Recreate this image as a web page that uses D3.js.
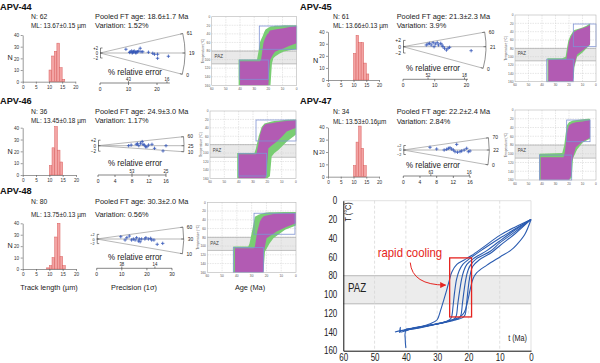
<!DOCTYPE html>
<html><head><meta charset="utf-8">
<script src="https://cdn.jsdelivr.net/npm/d3@7"></script>
<style>body{margin:0;background:#fff}svg{display:block}</style>
</head><body>
<svg id="c" width="600" height="363"></svg>
<script>
// ================= DATA =================
const sampleIds = ["APV-44","APV-45","APV-46","APV-47","APV-48"];
const trackN = [62, 61, 36, 34, 80];
const meanLength = ["13.67±0.15 µm","13.66±0.13 µm","13.45±0.18 µm","13.53±0.16µm","13.75±0.13 µm"];
const pooledAge = ["18.6±1.7 Ma","21.3±2.3 Ma","24.9±3.0 Ma","22.2±2.4 Ma","30.3±2.0 Ma"];
const variation = ["1.52%","3.9%","1.17%","2.84%","0.56%"];

// track-length histograms: [bin start (µm), count]
const hist44 = [[10,10],[11,22],[12,26],[13,33],[14,12],[15,2]];
const hist45 = [[10,22],[11,37],[12,31],[13,31],[14,14],[15,5]];
const hist46 = [[10,8],[11,23],[12,41],[13,21],[14,11]];
const hist47 = [[10,9],[11,28],[12,41],[13,23],[14,9]];
const hist48 = [[9,1],[10,3],[11,10],[12,28],[13,40],[14,11],[15,3]];
const lengthTicks = [0,5,10,15,20];
const countTicks = [0,10,20,30,40];

// radial plots: grains [precision, standardised estimate]
const radial44 = [[9.1,1.5],[10.4,0.2],[10.6,0.5],[11.1,0.8],[11.3,0.0],[11.5,0.3],[11.8,0.5],[12.0,0.8],[12.4,0.3],[12.6,0.0],[12.9,0.5],[13.2,0.5],[13.6,0.8],[14.1,1.9],[14.4,0.5],[15.0,0.5],[17.0,0.3],[18.5,-0.1],[19.1,-0.5],[20.2,-0.5],[20.2,-2.1],[24.0,-1.3]];
const radial45 = [[7.35,0.54],[7.9,0.86],[8.4,1.07],[8.9,0.54],[9.5,1.27],[9.8,0],[10.2,0.86],[10.8,1.27],[11.2,0.54],[11.9,1.07],[12.3,0.54],[12.6,0],[13.1,-0.5],[13.7,-1.07],[14.2,-0.5],[14.7,-0.2],[21.5,-1.27]];
const radial46 = [[7.2,0],[7.8,0.25],[9.0,0.5],[9.3,0.7],[9.6,0],[10.0,0.9],[10.4,1.5],[10.6,0.5],[10.9,0.25],[11.2,-0.4],[11.5,-0.4],[11.9,0.25],[12.7,0.5],[13.3,-0.95],[15.3,-1.9],[16.0,0]];
const radial47 = [[6.4,1.2],[8.0,0.44],[9.8,0],[10.4,0.3],[10.8,0.75],[11.2,1.0],[11.6,0.44],[12.0,0],[12.4,-0.75],[12.8,2.5],[13.0,-1.0],[13.6,-0.75],[14.0,-0.44],[14.6,0],[15.2,0.75],[15.6,-0.75],[16.0,-0.44]];
const radial48 = [[9.6,1.0],[11.3,-0.43],[12.0,0.57],[13.0,1.3],[13.9,-0.43],[14.6,0],[15.3,-0.43],[15.9,0.57],[16.6,-0.87],[17.0,0],[17.3,-1.2],[17.9,0],[19.2,0],[19.6,0.57],[20.6,0],[21.5,0.3],[21.9,-0.43],[22.8,-0.43],[24.1,-2.3],[26.3,-1.9]];
const precTicks44 = [0,10,20], precTicks45 = [0,10,20], precTicks46 = [0,4,8,12,16], precTicks47 = [0,4,8,12,16], precTicks48 = [0,10,20,30];
const precMax = [24.5, 20.5, 16, 16, 30];
const relErr44 = [[10,"43"],[23.5,"16"]], relErr45 = [[7.9,"52"],[19.4,"18"]], relErr46 = [[8,"53"],[16,"25"]], relErr47 = [[6.6,"63"],[15.8,"16"]], relErr48 = [[10,"38"],[23.2,"14"]];
const rayAge44 = ["61","19","0"], rayAge45 = ["60","21","0"], rayAge46 = ["60","25","10"], rayAge47 = ["70","22","0"], rayAge48 = ["60","30","10"];
const rayZ44 = [8,0,-8.8], rayZ45 = [4.7,0,-7.1], rayZ46 = [3.3,0,-2.2], rayZ47 = [5.5,0,-6.7], rayZ48 = [5.2,0,-6.5];
const zTicks = [2,0,-2];

// thermal-history envelopes: [age Ma, T min °C, T max °C]
const green44 = [[41,100,160],[30,100,160],[28,100,160],[27,82,160],[26,60,160],[25,52,160],[24,45,160],[23,36,160],[22,30,160],[20,26,160],[18.5,23,160],[17.5,22,110],[16.5,22,97],[15,21,92],[12,21,86],[9,20,81],[5,20,78],[0,20,76]];
const magenta44 = [[40,104,160],[26,104,160],[25.2,101,160],[24.5,85,160],[23.5,62,160],[22.5,52,160],[21.5,45,160],[20.5,40,160],[20,39,160],[19.5,35,130],[18.8,32,101],[17,31,90],[15.3,30,82],[12,28,77],[9.4,27,74],[5,24,68],[0,22,62]];
const green45 = [[36,104,160],[25,104,160],[22.5,100,160],[21.5,80,160],[20.5,62,160],[19,50,160],[17.5,42,160],[16.5,38,150],[16,36,125],[14,34,100],[10,30,90],[7,26,80],[4.4,20,72]];
const magenta45 = [[35.3,108,160],[22,106,160],[21,85,160],[20,65,160],[18.5,52,160],[17,44,160],[16.8,42,140],[16,40,120],[14,36,95],[10,32,85],[7,28,78],[4.4,24,70]];
const green46 = [[41,100,160],[29,100,160],[28,90,160],[27.4,80,160],[26,60,160],[24,38,160],[22,30,160],[20,28,160],[18.2,26,155],[17,25,108],[15,24,100],[12.3,23,93],[6.5,21,73],[0,20,56]];
const magenta46 = [[40,103,160],[28,103,160],[27.5,100,160],[26,75,160],[25,55,160],[23.5,40,160],[22,33,160],[21,31,158],[20.5,31,144],[19.3,30,89],[17,29,82],[13.5,27,73],[10,25,62],[6.5,24,49],[0,22,40]];
const green47 = [[42,100,160],[25,98,160],[23.5,80,160],[22.5,55,160],[21.5,35,160],[20,28,160],[18,25,155],[17,24,110],[14,23,90],[10,21,75],[6,20,68],[4.4,20,66]];
const magenta47 = [[41,108,160],[24,108,160],[23,95,160],[22,65,160],[21,45,160],[20,35,160],[18.5,32,150],[18,31,120],[15,28,85],[10,26,72],[6,24,66],[4.4,23,63]];
const green48 = [[42.4,101,160],[32.3,101,160],[31.5,95,160],[30.7,82,160],[28.9,52,160],[27.8,33,160],[25,28,160],[22,25,158],[21,24,113],[18,23,95],[15.3,23,82],[7.4,22,63],[0,22,53]];
const magenta48 = [[41.3,105,160],[28.5,105,160],[27.8,101,160],[26.2,67,160],[24.4,44,160],[23,36,160],[22.1,33,160],[21.8,32,115],[19.9,30,82],[15.3,27,72],[13.1,26,67],[7,25,57],[0,25,48]];
// constraint boxes: [old age, young age, T top, T bottom]
const boxes44 = [[26.4,0,21.7,76],[40.5,20,101,146]];
const boxes45 = [[16.8,0,21.6,76],[36.5,16.8,106,160]];
const boxes46 = [[27.9,0,21.4,71.3],[40.2,20.5,100.6,154.5]];
const boxes47 = [[21.7,4.4,22.9,72.4],[41.9,18,103,160]];
const boxes48 = [[28.4,0.7,25,73],[42.4,22.1,103.6,160]];
const ageTicks = [60,50,40,30,20,10,0];
const tempTicks = [0,20,40,60,80,100,120,140,160];
const pazRange = [80,110];

// summary t-T paths [age Ma, T °C]
const path1 = [[43.5,140],[40,137.5],[36,135],[32,131],[30,127],[29,118],[27.8,105],[27,96],[26.2,86],[25.3,76],[23.7,68],[21.5,63.5],[19,58.5],[15,49],[10,37],[5,28],[0,20]];
const path2 = [[40,157],[40.2,148],[40,139],[36,136],[32,133],[28,130],[26,127],[25.4,124],[24.9,112],[24.4,97],[23.8,84],[23,75],[21.8,68],[19.5,61.5],[15,51],[10,40],[5,30],[0,20]];
const path3 = [[41,139],[36,135.5],[31,132],[27,129],[24.5,126],[23.9,123],[23.4,110],[22.8,96],[22.2,84],[21.5,75],[20.5,68],[18.5,62],[14,53],[10,43],[5,31],[0,20]];
const path4 = [[40.5,138],[35,134.5],[30,131.5],[26,128],[23,125.5],[22.4,122],[21.9,109],[21.4,96],[20.9,85],[20.3,76],[19.4,69],[17.5,62],[13,54],[10,45],[5,33],[0,20]];
const path5 = [[40,137],[34,134],[29,131],[25,128],[22,125],[21.1,122],[20.6,110],[20.2,97],[19.8,86],[19.3,77],[18.6,70],[16.5,63],[12.5,55],[10,48],[5,35],[0,20]];
const path6 = [[42,141],[41.8,135],[41.6,140],[38,136],[33,133],[28,130],[25,127],[22.7,124],[21.3,119],[20.3,108],[19.4,94],[18.5,83],[17.4,77],[14.2,69],[9.9,60],[6.5,53],[4.6,47],[2,36],[0,20]];
const mainAgeTicks = [60,50,40,30,20,10,0];
const mainTempTicks = [0,20,40,60,80,100,120,140,160];
const rapidBox = [26,19,61,124];   // old age, young age, T top, T bottom
const arrowPts = [[38.6,66],[38,90],[27.3,90]];   // start, control, tip (age, T)

// ================= LAYOUT =================
const FONT = "'Liberation Sans', Arial, sans-serif";
const LAYOUT = {
 "APV-44":{tx:0,ty:9.5,nx:31,ny:18.5,mly:28,px:95,
   hx0:22.7,hx1:75.3,hy0:81.7,hy1:35,nlx:10,nly:59.5,
   rx0:100,ry0:53,rpx:2.85,rz:2.5,R:85,pay:83,relx:135,rely:74.5,
   gx0:211.7,gx1:296.7,gy0:16.7,gy1:85.3},
 "APV-45":{tx:300,ty:9.5,nx:333,ny:18.5,mly:28,px:396.7,
   hx0:328,hx1:379,hy0:80,hy1:31.7,nlx:315.5,nly:63,
   rx0:403,ry0:46.7,rpx:3.17,rz:3.15,R:83,pay:79.3,relx:433,rely:71.3,
   gx0:515,gx1:596,gy0:15,gy1:81.7},
 "APV-46":{tx:0,ty:104,nx:31,ny:113.5,mly:122.5,px:95,
   hx0:22.7,hx1:76,hy0:175,hy1:127.7,nlx:10,nly:154,
   rx0:98,ry0:145.7,rpx:4.25,rz:2.75,R:86,pay:175,relx:135,rely:166,
   gx0:210,gx1:296,gy0:111,gy1:178.3},
 "APV-47":{tx:300,ty:104,nx:333,ny:113.5,mly:123.5,px:396.7,
   hx0:328,hx1:379,hy0:176.7,hy1:127.3,nlx:315.5,nly:155,
   rx0:403.3,ry0:150,rpx:4.17,rz:2.25,R:86,pay:176,relx:433,rely:168,
   gx0:515,gx1:596,gy0:110,gy1:180},
 "APV-48":{tx:0,ty:194,nx:31,ny:203.5,mly:216.5,px:95,
   hx0:22.7,hx1:76,hy0:269,hy1:223.3,nlx:10,nly:248,
   rx0:96.7,ry0:239,rpx:2.51,rz:2.3,R:87,pay:268.3,relx:135,rely:259.5,
   gx0:207.3,gx1:296,gy0:202.3,gy1:272.3}
};

const svg = d3.select("#c");

function txt(g, x, y, s, o = {}) {
  const sx = o.sx ?? 0.88;
  return g.append("text")
    .attr("transform", `translate(${x},${y})` + (o.rot ? ` rotate(${o.rot})` : "") + ` scale(${sx},1)`)
    .attr("text-anchor", o.anchor || "start")
    .attr("font-size", o.size || 8)
    .attr("font-weight", o.weight || "normal")
    .attr("fill", o.fill || "#222")
    .attr("font-family", FONT)
    .text(s);
}
function styleAxis(a, size, sx, col = "#555", tcol = "#333") {
  a.select(".domain").attr("stroke", col).attr("stroke-width", 0.6);
  a.selectAll(".tick line").attr("stroke", col).attr("stroke-width", 0.6);
  a.selectAll(".tick text").attr("font-size", size).attr("font-family", FONT).attr("fill", tcol)
    .each(function () { const t = d3.select(this); const xv = +t.attr("x") || 0; t.attr("x", xv / sx).attr("transform", `scale(${sx},1)`); });
}

function drawHeader(id, i) {
  const L = LAYOUT[id], g = svg.append("g");
  txt(g, L.tx, L.ty, id, {size: 9.5, weight: "bold", sx: 0.97, fill: "#111"});
  txt(g, L.nx, L.ny, "N: " + trackN[i], {size: 8, sx: 0.85});
  txt(g, L.nx, L.mly, "ML: " + meanLength[i], {size: 8, sx: 0.8});
  txt(g, L.px, L.ny, "Pooled FT age: " + pooledAge[i], {size: 8, sx: 0.925});
  txt(g, L.px, L.mly, "Variation: " + variation[i], {size: 8, sx: 0.925});
}

function drawHist(id, data) {
  const L = LAYOUT[id], g = svg.append("g");
  const x = d3.scaleLinear().domain([0, 20]).range([L.hx0, L.hx1]);
  const y = d3.scaleLinear().domain([0, 40]).range([L.hy0, L.hy1]);
  g.selectAll("rect").data(data).join("rect")
    .attr("x", d => x(d[0])).attr("width", d => x(d[0] + 1) - x(d[0]))
    .attr("y", d => y(d[1])).attr("height", d => y(0) - y(d[1]))
    .attr("fill", "#f3a4a4").attr("stroke", "#d9605f").attr("stroke-width", 0.5);
  const ax = g.append("g").attr("transform", `translate(0,${L.hy0})`)
    .call(d3.axisBottom(x).tickValues(lengthTicks).tickSize(2).tickSizeOuter(0).tickPadding(1.5));
  const ay = g.append("g").attr("transform", `translate(${L.hx0},0)`)
    .call(d3.axisLeft(y).tickValues(countTicks).tickSize(2).tickSizeOuter(0).tickPadding(1.5));
  styleAxis(ax, 5.2, 0.9); styleAxis(ay, 5.2, 0.9);
  txt(g, L.nlx, L.nly, "N", {size: 8, sx: 0.9, anchor: "middle"});
}

function drawRadial(id, pts, pTicks, pMax, relErr, rayAge, rayZ) {
  const L = LAYOUT[id], g = svg.append("g");
  const px = d3.scaleLinear().domain([0, pMax]).range([L.rx0, L.rx0 + pMax * L.rpx]);
  const zy = d3.scaleLinear().domain([-2, 2]).range([L.ry0 + 2 * L.rz, L.ry0 - 2 * L.rz]);
  const ends = rayZ.map(z => { const a = Math.atan2(zy(z) - L.ry0, L.R); return {a, x: L.rx0 + L.R * Math.cos(a), y: L.ry0 + L.R * Math.sin(a)}; });
  g.selectAll("line.ray").data(ends).join("line").attr("class", "ray")
    .attr("x1", L.rx0).attr("y1", L.ry0).attr("x2", d => d.x).attr("y2", d => d.y)
    .attr("stroke", "#9a9a9a").attr("stroke-width", 0.7);
  const e0 = ends[0], e2 = ends[ends.length - 1];
  g.append("path").attr("d", `M${e0.x},${e0.y}A${L.R},${L.R} 0 0 1 ${e2.x},${e2.y}`)
    .attr("fill", "none").attr("stroke", "#444").attr("stroke-width", 0.6);
  ends.forEach((e, k) => {
    g.append("line").attr("x1", e.x).attr("y1", e.y)
      .attr("x2", e.x - 2.5 * Math.cos(e.a)).attr("y2", e.y - 2.5 * Math.sin(e.a))
      .attr("stroke", "#444").attr("stroke-width", 0.6);
    txt(g, e.x + 3 * Math.cos(e.a) + 1, e.y + 3 * Math.sin(e.a) + 2, rayAge[k], {size: 5.5, sx: 0.9});
  });
  g.append("line").attr("x1", L.rx0 + 0.5).attr("x2", L.rx0 + 0.5).attr("y1", zy(2)).attr("y2", zy(-2)).attr("stroke", "#333").attr("stroke-width", 0.6);
  const zSize = Math.min(5.5, 2 * L.rz * 0.92);
  zTicks.forEach(z => {
    g.append("line").attr("x1", L.rx0 + 0.5).attr("x2", L.rx0 + 2.5).attr("y1", zy(z)).attr("y2", zy(z)).attr("stroke", "#333").attr("stroke-width", 0.6);
    txt(g, L.rx0 - 2, zy(z) + zSize * 0.36, z > 0 ? "+" + z : (z < 0 ? "\u2212" + (-z) : "0"), {size: zSize, anchor: "end", sx: 0.9});
  });
  const pl = g.selectAll("g.pt").data(pts).join("g").attr("class", "pt")
    .attr("transform", d => `translate(${px(d[0])},${zy(d[1])})`);
  pl.append("line").attr("x1", -1.7).attr("x2", 1.7).attr("stroke", "#3456b8").attr("stroke-width", 0.8);
  pl.append("line").attr("y1", -1.7).attr("y2", 1.7).attr("stroke", "#3456b8").attr("stroke-width", 0.8);
  g.append("line").attr("x1", px(0)).attr("x2", px(pMax)).attr("y1", L.pay).attr("y2", L.pay).attr("stroke", "#333").attr("stroke-width", 0.6);
  pTicks.forEach(p => {
    g.append("line").attr("x1", px(p)).attr("x2", px(p)).attr("y1", L.pay).attr("y2", L.pay + 2).attr("stroke", "#333").attr("stroke-width", 0.6);
    txt(g, px(p), L.pay + 7.5, String(p), {size: 5.5, anchor: "middle", sx: 0.9});
  });
  relErr.forEach(r => {
    g.append("line").attr("x1", px(r[0])).attr("x2", px(r[0])).attr("y1", L.pay).attr("y2", L.pay - 1.8).attr("stroke", "#333").attr("stroke-width", 0.6);
    txt(g, px(r[0]), L.pay - 2.2, r[1], {size: 4.8, anchor: "middle", sx: 0.9});
  });
  txt(g, L.relx, L.rely, "% relative error", {size: 9, anchor: "middle", sx: 0.885});
}

function drawThermal(id, green, mag, boxes) {
  const L = LAYOUT[id], g = svg.append("g");
  const x = d3.scaleLinear().domain([60, 0]).range([L.gx0, L.gx1]);
  const y = d3.scaleLinear().domain([0, 160]).range([L.gy0, L.gy1]);
  g.append("rect").attr("x", x(60)).attr("y", y(0)).attr("width", x(0) - x(60)).attr("height", y(160) - y(0)).attr("fill", "#fff");
  g.append("rect").attr("x", x(60)).attr("y", y(pazRange[0])).attr("width", x(0) - x(60))
    .attr("height", y(pazRange[1]) - y(pazRange[0])).attr("fill", "#e9e9e9");
  g.selectAll("line.vg").data(ageTicks.slice(1, -1)).join("line").attr("class", "vg")
    .attr("x1", d => x(d)).attr("x2", d => x(d)).attr("y1", y(0)).attr("y2", y(160))
    .attr("stroke", "#cfcfcf").attr("stroke-width", 0.5).attr("stroke-dasharray", "1.5,1");
  g.selectAll("line.hg").data(tempTicks.slice(1, -1)).join("line").attr("class", "hg")
    .attr("x1", x(60)).attr("x2", x(0)).attr("y1", d => y(d)).attr("y2", d => y(d))
    .attr("stroke", "#cfcfcf").attr("stroke-width", 0.5).attr("stroke-dasharray", "1.5,1");
  g.selectAll("line.paz").data(pazRange).join("line").attr("class", "paz")
    .attr("x1", x(60)).attr("x2", x(0)).attr("y1", d => y(d)).attr("y2", d => y(d))
    .attr("stroke", "#9a9a9a").attr("stroke-width", 0.6);
  txt(g, x(58), y(97), "PAZ", {size: 5, sx: 0.9, fill: "#444"});
  const area = d3.area().x(d => x(d[0])).y0(d => y(d[1])).y1(d => y(d[2]));
  g.append("path").datum(green).attr("d", area).attr("fill", "#79cd73");
  g.append("path").datum(mag).attr("fill", "#b25bb3").attr("d", area);
  g.selectAll("rect.box").data(boxes).join("rect").attr("class", "box")
    .attr("x", d => x(d[0])).attr("width", d => x(d[1]) - x(d[0]))
    .attr("y", d => y(d[2])).attr("height", d => y(d[3]) - y(d[2]))
    .attr("fill", "none").attr("stroke", "#7f93d4").attr("stroke-width", 0.8);
  g.append("rect").attr("x", x(60)).attr("y", y(0)).attr("width", x(0) - x(60)).attr("height", y(160) - y(0))
    .attr("fill", "none").attr("stroke", "#b5b5b5").attr("stroke-width", 0.6);
  ageTicks.forEach(a => txt(g, x(a), y(160) + 4.5, String(a), {size: 3.6, anchor: "middle", sx: 0.9, fill: "#555"}));
  tempTicks.forEach(t => txt(g, x(60) - 1.5, y(t) + 1.3, String(t), {size: 3.6, anchor: "end", sx: 0.9, fill: "#555"}));
  txt(g, x(60) - 8, (y(0) + y(160)) / 2, "Temperature (°C)", {size: 3.6, anchor: "middle", rot: -90, sx: 0.9, fill: "#555"});
}

const H = [hist44, hist45, hist46, hist47, hist48];
const RP = [radial44, radial45, radial46, radial47, radial48];
const PT = [precTicks44, precTicks45, precTicks46, precTicks47, precTicks48];
const RE = [relErr44, relErr45, relErr46, relErr47, relErr48];
const RA = [rayAge44, rayAge45, rayAge46, rayAge47, rayAge48];
const RZ = [rayZ44, rayZ45, rayZ46, rayZ47, rayZ48];
const GR = [green44, green45, green46, green47, green48];
const MG = [magenta44, magenta45, magenta46, magenta47, magenta48];
const BX = [boxes44, boxes45, boxes46, boxes47, boxes48];
sampleIds.forEach((id, i) => {
  drawHeader(id, i);
  drawHist(id, H[i]);
  drawRadial(id, RP[i], PT[i], precMax[i], RE[i], RA[i], RZ[i]);
  drawThermal(id, GR[i], MG[i], BX[i]);
});
{
  const g = svg.append("g");
  txt(g, 49, 290, "Track length (µm)", {size: 8, anchor: "middle", sx: 0.92});
  txt(g, 134, 290, "Precision (1σ)", {size: 8, anchor: "middle", sx: 0.92});
  txt(g, 250, 290, "Age (Ma)", {size: 8, anchor: "middle", sx: 0.92});
}

// ================= MAIN t-T CHART =================
{
  const g = svg.append("g");
  const x = d3.scaleLinear().domain([60, 0]).range([343.3, 531]);
  const y = d3.scaleLinear().domain([0, 160]).range([200.7, 350.7]);
  g.append("rect").attr("x", x(60)).attr("y", y(pazRange[0])).attr("width", x(0) - x(60))
    .attr("height", y(pazRange[1]) - y(pazRange[0])).attr("fill", "#ececec");
  g.selectAll("line.paz").data(pazRange).join("line").attr("class", "paz")
    .attr("x1", x(60)).attr("x2", x(0)).attr("y1", d => y(d)).attr("y2", d => y(d))
    .attr("stroke", "#aaaaaa").attr("stroke-width", 0.8);
  g.selectAll("line.vg").data(mainAgeTicks.slice(1, -1)).join("line").attr("class", "vg")
    .attr("x1", d => x(d)).attr("x2", d => x(d)).attr("y1", y(0)).attr("y2", y(160))
    .attr("stroke", "#d4d4d4").attr("stroke-width", 0.7).attr("stroke-dasharray", "3,2");
  g.append("line").attr("x1", x(60)).attr("x2", x(0)).attr("y1", y(0)).attr("y2", y(0)).attr("stroke", "#d4d4d4").attr("stroke-width", 0.7);
  g.append("line").attr("x1", x(0)).attr("x2", x(0)).attr("y1", y(0)).attr("y2", y(160)).attr("stroke", "#d4d4d4").attr("stroke-width", 0.7);
  txt(g, x(58.5), y(97), "PAZ", {size: 12.5, sx: 0.78, fill: "#222"});
  const line = d3.line().x(d => x(d[0])).y(d => y(d[1])).curve(d3.curveCatmullRom.alpha(0.5));
  g.selectAll("path.tt").data([path1, path2, path3, path4, path5, path6]).join("path").attr("class", "tt")
    .attr("d", line).attr("fill", "none").attr("stroke", "#2a5bb0").attr("stroke-width", 1.1);
  const ax = g.append("g").attr("transform", `translate(0,${y(160)})`)
    .call(d3.axisBottom(x).tickValues(mainAgeTicks).tickSize(0).tickSizeOuter(0).tickPadding(3));
  const ay = g.append("g").attr("transform", `translate(${x(60)},0)`)
    .call(d3.axisLeft(y).tickValues(mainTempTicks).tickSize(0).tickSizeOuter(0).tickPadding(6));
  styleAxis(ax, 10, 0.8, "#111", "#222"); styleAxis(ay, 10, 0.8, "#111", "#222");
  ax.select(".domain").attr("stroke-width", 1); ay.select(".domain").attr("stroke-width", 1);
  txt(g, x(60) + 8, y(12), "T (°C)", {size: 8.5, anchor: "middle", rot: -90, sx: 0.85});
  txt(g, x(0) - 4, y(150), "t (Ma)", {size: 8.5, anchor: "end", sx: 0.85});
  g.append("rect").attr("x", x(rapidBox[0])).attr("width", x(rapidBox[1]) - x(rapidBox[0]))
    .attr("y", y(rapidBox[2])).attr("height", y(rapidBox[3]) - y(rapidBox[2]))
    .attr("fill", "none").attr("stroke", "#e52420").attr("stroke-width", 1.3);
  txt(g, x(38.7), y(60), "rapid cooling", {size: 12, anchor: "middle", sx: 0.95, fill: "#e52420"});
  const defs = svg.append("defs");
  defs.append("marker").attr("id", "ah").attr("viewBox", "0 0 10 10").attr("refX", 9).attr("refY", 5)
    .attr("markerWidth", 6).attr("markerHeight", 6).attr("orient", "auto")
    .append("path").attr("d", "M0,0L10,5L0,10z").attr("fill", "#e52420");
  const p = d3.path();
  p.moveTo(x(arrowPts[0][0]), y(arrowPts[0][1]));
  p.quadraticCurveTo(x(arrowPts[1][0]), y(arrowPts[1][1]), x(arrowPts[2][0]), y(arrowPts[2][1]));
  g.append("path").attr("d", p.toString()).attr("fill", "none").attr("stroke", "#e52420").attr("stroke-width", 1)
    .attr("marker-end", "url(#ah)");
}
</script>
</body></html>
